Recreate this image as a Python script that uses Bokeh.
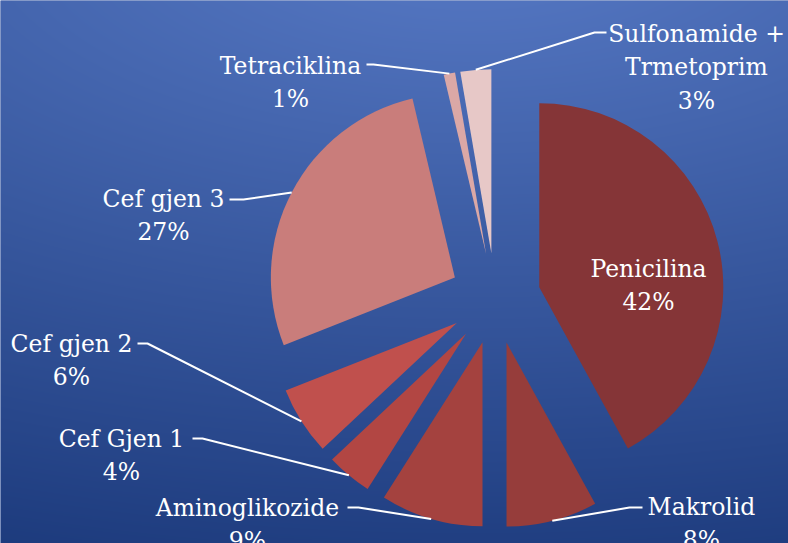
import numpy as np
from bokeh.plotting import figure
from bokeh.models import Range1d, ColumnDataSource
from bokeh.embed import file_html
from bokeh.resources import INLINE
from bokeh.core.properties import value

# ---------------- data ----------------
categories = ["Penicilina", "Makrolid", "Aminoglikozide", "Cef Gjen 1",
              "Cef gjen 2", "Cef gjen 3", "Tetraciklina",
              "Sulfonamide +\nTrmetoprim"]
shares = [42, 8, 9, 4, 6, 27.3, 1.0, 2.7]
percent_labels = ["42%", "8%", "9%", "4%", "6%", "27%", "1%", "3%"]
colors = ["#853537", "#963d3b", "#a4423f", "#b24643", "#c0504d",
          "#c97d7b", "#dba8a6", "#e7c8c7"]

# ---------------- layout (page pixels, y down) ----------------
W, H = 788, 543
OFF = 0
CX, CY = 494.7, 298.0
R = 184.0
EXPLODE = 45.5
LINE_GAP = 33.5
label_pos = [(648, 268), (701, 506), (247, 507), (121, 438),
             (71, 343), (163, 198), (290, 65), (696, 33)]
elbows = [None, (629, 507), (358, 507), (202, 438),
          (147, 343), (243, 199), (373, 64), (594, 32)]
ends = [None, (642, 507), (347, 507), (192, 438),
        (137, 343), (229, 199), (366, 64), (606, 32)]

p = figure(width=W, height=H, output_backend="svg", toolbar_location=None,
           x_range=Range1d(OFF, OFF + W), y_range=Range1d(-(OFF + H), -OFF),
           min_border=0, outline_line_color=None,
           background_fill_color="#3a5aa3", border_fill_color="#3a5aa3")
p.axis.visible = False
p.grid.visible = False

# background gradient
jj = np.arange(W) + OFF + 0.5
ii = np.arange(H)
Xg, Ig = np.meshgrid(jj, ii)
Yg = (OFF + H) - Ig - 0.5
d = np.sqrt(((Xg - 470) / 2.2) ** 2 + (Yg + 80) ** 2)
t = np.clip((d - 80) / 595.0, 0, 1.05)
c0 = np.array([82, 116, 191], dtype=float)
c1 = np.array([28, 58, 124], dtype=float)
img = np.empty((H, W), dtype=np.uint32)
view = img.view(dtype=np.uint8).reshape((H, W, 4))
for k in range(3):
    view[:, :, k] = np.clip(c0[k] + (c1[k] - c0[k]) * t, 0, 255).astype(np.uint8)
view[:, :, 3] = 255
p.image_rgba(image=[img], x=OFF, y=-(OFF + H), dw=W, dh=H)

# wedges
total = float(sum(shares))
cum = np.concatenate([[0.0], np.cumsum(shares)]) / total * 2 * np.pi
th1 = cum[:-1]
th2 = cum[1:]
mid = (th1 + th2) / 2
ax = CX + EXPLODE * np.sin(mid)
ay = -CY + EXPLODE * np.cos(mid)
src = ColumnDataSource(dict(x=ax, y=ay, s=np.pi / 2 - th1, e=np.pi / 2 - th2,
                            c=colors))
p.wedge(x="x", y="y", radius=R, start_angle="s", end_angle="e",
        direction="clock", fill_color="c", line_color=None, source=src)

# leader lines
xs, ys = [], []
for i in range(len(categories)):
    if elbows[i] is None:
        continue
    px = ax[i] + R * np.sin(mid[i])
    py = ay[i] + R * np.cos(mid[i])
    xs.append([px, elbows[i][0], ends[i][0]])
    ys.append([py, -elbows[i][1], -ends[i][1]])
p.multi_line(xs=xs, ys=ys, line_color="white", line_width=2)

# labels
tx, ty, tt = [], [], []
for i, name in enumerate(categories):
    lines = name.split("\n") + [percent_labels[i]]
    bx, by = label_pos[i]
    for k, ln in enumerate(lines):
        tx.append(bx)
        ty.append(-(by + k * LINE_GAP))
        tt.append(ln)
p.text(x=tx, y=ty, text=tt, text_font=value("DejaVu Serif"),
       text_font_size="23.5px", text_color="white", text_align="center",
       text_baseline="alphabetic")

open("out.html", "w").write(file_html(p, INLINE))
